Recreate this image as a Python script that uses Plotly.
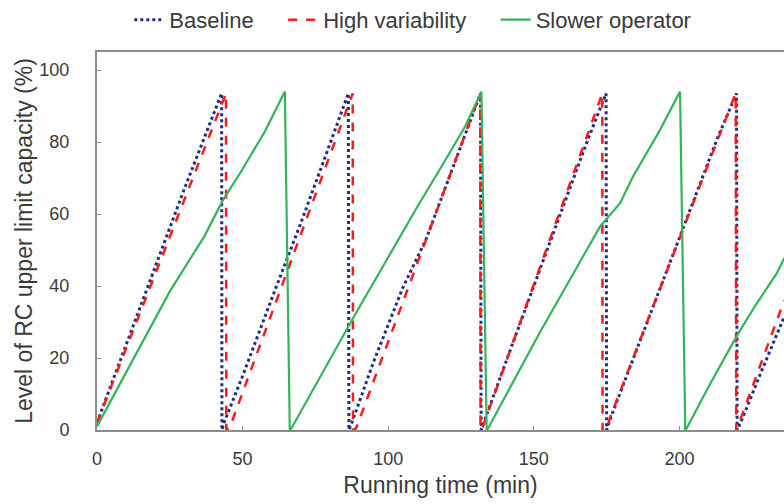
import plotly.graph_objects as go

# ---- data ----
baseline_x = [0, 10, 20, 30, 42.8, 42.9, 43.6, 50, 60, 70, 80, 86.3, 86.5, 87.5, 95, 105, 113, 122,
              131.7, 131.9, 133, 140, 150, 160, 168, 174.8, 175.0, 176.2, 185, 195, 205, 213,
              219.6, 219.8, 221, 228, 236]
baseline_y = [2, 23.5, 45.5, 67, 93.5, 0, 2, 15, 36.5, 57.5, 79.5, 93.5, 0, 2, 19, 39.5, 53, 72.5,
              93.5, 0, 2.5, 18, 40, 62, 79.5, 93.5, 0, 3, 21.5, 43, 64, 81,
              93.5, 0, 2, 16, 31.5]

highvar_x = [0, 10, 20, 30, 38, 44.3, 44.4, 45.5, 50, 60, 70, 80, 87.8, 87.9, 89, 97.7, 105, 115, 125,
             131.6, 131.7, 132.5, 140, 150, 160, 167, 173.5, 173.6, 175, 176.2, 185, 195, 205, 213,
             219.3, 219.5, 220.5, 228, 236]
highvar_y = [2, 22.6, 43.3, 64, 80.5, 93.5, 0, 0.5, 10.4, 32.4, 54.4, 76.3, 93.5, 0, 0.5, 19.5, 35.4, 57.2, 79.1,
             93.5, 0, 1, 17.9, 40.5, 63, 78.8, 93.5, 0, 0, 3.5, 21.9, 42.8, 63.7, 80.5,
             93.5, 0, 2, 18.5, 36]

slower_x = [0, 6, 13, 25, 37, 43, 50, 57.7, 64.5, 66.2, 66.8, 75, 87.5, 100, 110, 117.8, 126.4, 132,
            133.8, 134.3, 143, 152, 165, 172.7, 179.6, 184.1, 193.3, 200.2, 202, 202.5, 210, 219.6,
            226, 233.4, 236]
slower_y = [1, 10, 20.5, 38.5, 54, 63.5, 72.5, 83, 94, 0, 0.5, 12.5, 30.5, 48, 62, 72.5, 84.3, 94,
            0, 0.5, 13.5, 27, 45.5, 56.5, 63, 70.5, 83.3, 94, 0, 0.5, 12, 26,
            34.5, 43.5, 47.8]

series_names = ["Baseline", "High variability", "Slower operator"]
x_ticks = [0, 50, 100, 150, 200]
y_ticks = [0, 20, 40, 60, 80, 100]

FONT = "Liberation Sans, Arial, sans-serif"
TXT = "#3a3a3a"
AX = "#8c8c8c"
PAD = "\u00a0" * 4

fig = go.Figure()
fig.add_trace(go.Scatter(x=baseline_x, y=baseline_y, mode="lines", name=series_names[0] + PAD,
                         line=dict(color="#1F2D86", width=3, dash="dot")))
fig.add_trace(go.Scatter(x=highvar_x, y=highvar_y, mode="lines", name=series_names[1] + PAD,
                         line=dict(color="#FF1A1A", width=2.5, dash="dash")))
fig.add_trace(go.Scatter(x=slower_x, y=slower_y, mode="lines", name=series_names[2],
                         line=dict(color="#33B45A", width=2.2)))

fig.update_layout(
    width=784, height=504,
    margin=dict(l=97, r=0, t=52, b=74, autoexpand=False),
    paper_bgcolor="white", plot_bgcolor="white",
    font=dict(family=FONT, color=TXT, size=18),
    showlegend=True,
    legend=dict(orientation="h", x=0.047, xanchor="left", y=1.085, yanchor="middle",
                font=dict(family=FONT, size=22, color=TXT), bgcolor="rgba(0,0,0,0)"),
)
fig.update_xaxes(range=[0, 235.9], tickvals=x_ticks, ticks="inside", ticklen=4, tickcolor=AX,
                 showline=True, linecolor=AX, linewidth=2, mirror=True, showgrid=False, zeroline=False,
                 tickfont=dict(size=18, color=TXT), ticklabelstandoff=11,
                 title=dict(text="Running time (min)", font=dict(size=23, color=TXT), standoff=9))
fig.update_yaxes(range=[0, 105], tickvals=y_ticks, ticks="inside", ticklen=4, tickcolor=AX,
                 showline=True, linecolor=AX, linewidth=2, showgrid=False, zeroline=False,
                 tickfont=dict(size=18, color=TXT), ticklabelstandoff=22,
                 title=dict(text="Level of RC upper limit capacity (%)", font=dict(size=23, color=TXT), standoff=0))

fig.write_html("out.html")
